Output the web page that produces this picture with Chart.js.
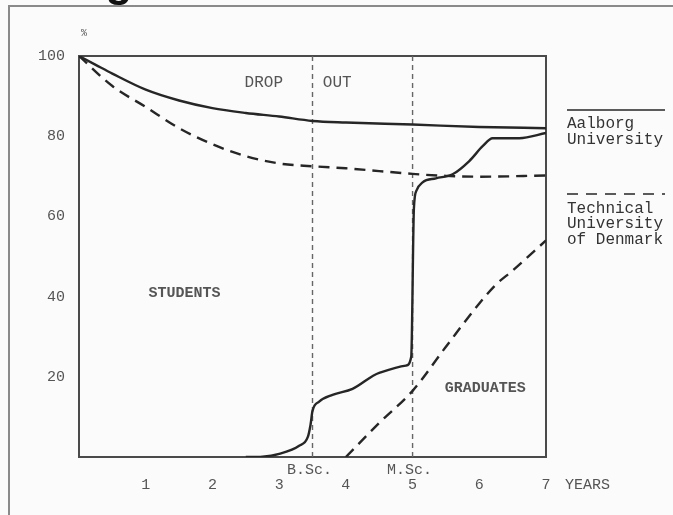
<!DOCTYPE html>
<html>
<head>
<meta charset="utf-8">
<script src="https://cdn.jsdelivr.net/npm/chart.js@4/dist/chart.umd.min.js"></script>
<style>
  html, body { margin: 0; padding: 0; background: #fbfbfb; }
  #wrap { width: 673px; height: 515px; position: relative; }
</style>
</head>
<body>
<div id="wrap"><canvas id="c" width="673" height="515"></canvas></div>
<script>
const MONO = '"Liberation Mono", "DejaVu Sans Mono", monospace';
const INK  = '#262626';
const GREY = '#555';

// ---- data: share of intake (%) against years since enrolment --------------
const aauStudentYears = [0, 0.25, 0.5, 1, 1.5, 2, 2.5, 3, 3.5, 4, 5, 6, 7];
const aauStudents     = [100, 97.8, 95.6, 91.6, 88.9, 87, 85.8, 84.9, 83.8, 83.4, 82.9, 82.3, 82];

const dtuStudentYears = [0, 0.5, 1, 1.5, 2, 2.5, 3, 3.5, 4, 4.5, 5, 5.5, 6, 7];
const dtuStudents     = [100, 92.5, 87.3, 82, 78, 75, 73.2, 72.5, 72, 71.3, 70.6, 70.1, 69.9, 70.2];

const aauGradYears = [2.5, 2.75, 3.0, 3.3, 3.43, 3.47, 3.5, 3.6, 3.8, 4.1, 4.5, 4.9, 4.98, 5.02, 5.06, 5.15, 5.35, 5.6, 5.85, 6.05, 6.2, 6.6, 7];
const aauGrads     = [0, 0.1, 0.8, 2.8, 5.0, 8, 11.5, 13.8, 15.5, 17, 21, 22.8, 25, 62, 66.5, 68.5, 69.5, 70.5, 73.8, 77.5, 79.5, 79.5, 80.8];

const dtuGradYears = [4.0, 4.5, 5.0, 5.5, 6.0, 6.25, 6.5, 7];
const dtuGrads     = [0, 8.5, 16.5, 27.5, 38.3, 43, 46.5, 54];

// degree milestones (years)
const milestoneYears  = [3.5, 5];
const milestoneLabels = ['B.Sc.', 'M.Sc.'];

const yTicks = [20, 40, 60, 80, 100];
const xTicks = [1, 2, 3, 4, 5, 6, 7];

const pts = (xs, ys) => xs.map((x, i) => ({ x, y: ys[i] }));

function curve(label, xs, ys, dashed) {
  return {
    label, data: pts(xs, ys), borderColor: INK, backgroundColor: 'transparent',
    borderWidth: 2.4, pointRadius: 0, cubicInterpolationMode: 'monotone',
    borderDash: dashed ? [11, 7] : [],
  };
}

function milestone(x) {
  return {
    label: 'm' + x, data: [{ x, y: 0 }, { x, y: 100 }], borderColor: '#666',
    borderWidth: 1.4, borderDash: [5, 4], pointRadius: 0, tension: 0,
  };
}

// ---- extras: frame, box, labels, legend -----------------------------------
const decor = {
  id: 'decor',
  beforeDatasetsDraw(chart) {
    const { ctx, chartArea: a } = chart;
    ctx.save();
    // scan frame
    ctx.strokeStyle = '#8a8a8a';
    ctx.lineWidth = 2;
    ctx.beginPath();
    ctx.moveTo(9, 515); ctx.lineTo(9, 6); ctx.lineTo(673, 6);
    ctx.stroke();
    // plot box
    ctx.strokeStyle = '#4a4a4a';
    ctx.lineWidth = 2;
    ctx.strokeRect(a.left, a.top, a.right - a.left, a.bottom - a.top);
    ctx.restore();
  },
  afterDraw(chart) {
    const { ctx } = chart;
    const xs = chart.scales.x, ys = chart.scales.y;
    const px = v => xs.getPixelForValue(v), py = v => ys.getPixelForValue(v);
    ctx.save();
    // cut-off title glyph at the very top
    ctx.fillStyle = '#111';
    ctx.font = 'bold 44px "Liberation Sans", sans-serif';
    ctx.textAlign = 'center';
    ctx.textBaseline = 'alphabetic';
    ctx.fillText('g', 119, -4);

    ctx.fillStyle = GREY;
    ctx.textBaseline = 'middle';
    ctx.font = '10px ' + MONO;
    ctx.fillText('%', 84, 33);

    ctx.font = '16px ' + MONO;
    ctx.fillText('DROP', px(2.77), py(93.3));
    ctx.fillText('OUT', px(3.87), py(93.3));
    ctx.font = 'bold 15px ' + MONO;
    ctx.fillText('STUDENTS', px(1.58), py(40.9));
    ctx.fillText('GRADUATES', px(6.09), py(17.2));

    ctx.font = '15px ' + MONO;
    milestoneYears.forEach((m, i) => ctx.fillText(milestoneLabels[i], px(m) - 3, 470));
    ctx.textAlign = 'left';
    ctx.fillText('YEARS', 565, 485);

    // legend
    ctx.fillStyle = '#333';
    ctx.strokeStyle = INK;
    ctx.lineWidth = 1.6;
    ctx.beginPath(); ctx.moveTo(567, 110); ctx.lineTo(665, 110); ctx.stroke();
    ctx.setLineDash([11, 8]);
    ctx.beginPath(); ctx.moveTo(567, 194); ctx.lineTo(665, 194); ctx.stroke();
    ctx.setLineDash([]);
    ctx.font = '16px ' + MONO;
    ctx.fillText('Aalborg', 567, 124);
    ctx.fillText('University', 567, 140);
    ctx.fillText('Technical', 567, 209);
    ctx.fillText('University', 567, 224);
    ctx.fillText('of Denmark', 567, 240);
    ctx.restore();
  },
};

new Chart(document.getElementById('c'), {
  type: 'line',
  data: {
    datasets: [
      curve('Aalborg University students', aauStudentYears, aauStudents, false),
      curve('Technical University of Denmark students', dtuStudentYears, dtuStudents, true),
      curve('Aalborg University graduates', aauGradYears, aauGrads, false),
      curve('Technical University of Denmark graduates', dtuGradYears, dtuGrads, true),
      ...milestoneYears.map(milestone),
    ],
  },
  options: {
    responsive: false,
    animation: false,
    layout: { padding: { left: 0, top: 56, right: 127, bottom: 0 } },
    plugins: { legend: { display: false }, tooltip: { enabled: false } },
    scales: {
      x: {
        type: 'linear', min: 0, max: 7,
        afterFit: s => { s.height = 58; },
        afterBuildTicks: s => { s.ticks = xTicks.map(v => ({ value: v })); },
        ticks: { color: GREY, padding: 19, maxRotation: 0, font: { size: 15, family: MONO } },
        grid: { display: false, drawTicks: false },
        border: { display: false },
      },
      y: {
        type: 'linear', min: 0, max: 100,
        afterFit: s => { s.width = 79; },
        afterBuildTicks: s => { s.ticks = yTicks.map(v => ({ value: v })); },
        ticks: { color: GREY, padding: 14, font: { size: 15, family: MONO } },
        grid: { display: false, drawTicks: false },
        border: { display: false },
      },
    },
  },
  plugins: [decor],
});
</script>
</body>
</html>
